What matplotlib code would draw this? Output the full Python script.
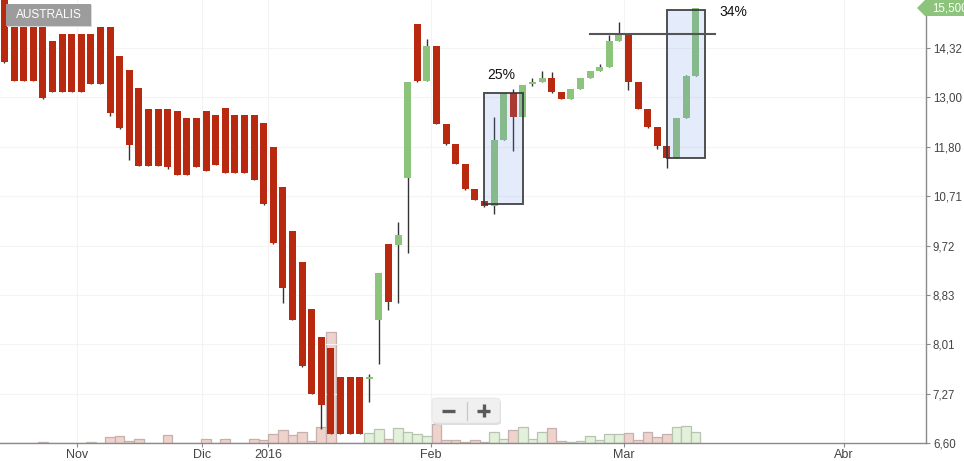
import matplotlib
matplotlib.use('Agg')
import matplotlib.pyplot as plt
import numpy as np
from matplotlib.patches import Rectangle, FancyBboxPatch, Polygon
from matplotlib.lines import Line2D
from matplotlib.ticker import FixedLocator, NullLocator

plt.rcParams['font.family'] = ['Liberation Sans', 'DejaVu Sans']

# ---------------- data ----------------
opens = [15.90, 15.05, 15.05, 15.05, 15.05, 14.52, 14.73, 14.73, 14.73, 14.73,
         14.93, 14.93, 14.10, 13.70, 13.25, 12.71, 12.71, 12.71, 12.66, 12.49,
         12.49, 12.66, 12.56, 12.74, 12.56, 12.56, 12.56, 12.36, 11.79, 10.90,
         10.00, 9.41, 8.58, 8.12, 7.95, 7.51, 7.51, 7.51, 7.48, 8.40,
         9.75, 9.73, 11.10, 15.01, 13.42, 14.38, 12.34, 11.86, 11.41, 10.86,
         10.61, 10.50, 11.96, 13.11, 12.51, 13.34, 13.40, 13.50, 13.14, 12.96,
         13.21, 13.50, 13.69, 13.80, 14.52, 14.72, 13.40, 12.71, 12.26, 11.82,
         11.54, 12.48, 13.56]
closes = [13.92, 13.43, 13.43, 13.43, 12.99, 13.14, 13.14, 13.14, 13.14, 13.35,
          13.35, 12.61, 12.25, 11.84, 11.37, 11.37, 11.37, 11.33, 11.17, 11.17,
          11.33, 11.24, 11.39, 11.21, 11.21, 11.21, 11.06, 10.55, 9.77, 8.94,
          8.40, 7.68, 7.27, 7.11, 6.72, 6.72, 6.72, 6.72, 7.51, 9.21,
          8.70, 9.92, 13.40, 13.42, 14.38, 12.34, 11.86, 11.41, 10.86, 10.63,
          10.50, 11.96, 13.11, 12.51, 13.32, 13.40, 13.50, 13.14, 12.96, 13.21,
          13.50, 13.69, 13.80, 14.52, 14.72, 13.40, 12.71, 12.26, 11.82, 11.54,
          12.48, 13.56, 15.50]
highs = [15.90, 15.05, 15.05, 15.05, 15.05, 14.52, 14.73, 14.73, 14.73, 14.73,
         14.93, 14.93, 14.10, 13.70, 13.25, 12.71, 12.71, 12.71, 12.66, 12.49,
         12.49, 12.66, 12.56, 12.74, 12.56, 12.56, 12.56, 12.36, 11.79, 10.90,
         10.00, 9.41, 8.58, 8.12, 7.95, 7.51, 7.51, 7.51, 7.56, 9.21,
         9.75, 10.18, 13.40, 15.01, 14.57, 14.38, 12.34, 11.86, 11.41, 10.86,
         10.61, 12.51, 13.11, 13.21, 13.32, 13.50, 13.69, 13.66, 13.14, 13.21,
         13.50, 13.69, 13.88, 14.69, 15.07, 14.72, 13.40, 12.71, 12.26, 11.82,
         12.48, 13.58, 15.50]
lows = [13.89, 13.43, 13.43, 13.43, 12.96, 13.14, 13.14, 13.14, 13.14, 13.35,
        13.35, 12.52, 12.22, 11.49, 11.35, 11.37, 11.37, 11.30, 11.17, 11.17,
        11.33, 11.24, 11.39, 11.21, 11.21, 11.21, 11.06, 10.53, 9.75, 8.68,
        8.40, 7.66, 7.26, 6.78, 6.72, 6.72, 6.72, 6.72, 7.15, 7.71,
        8.57, 8.68, 9.58, 13.40, 13.42, 12.34, 11.84, 11.41, 10.84, 10.63,
        10.48, 10.34, 11.96, 11.70, 12.51, 13.29, 13.40, 13.11, 12.96, 12.96,
        13.21, 13.50, 13.69, 13.80, 14.52, 13.19, 12.71, 12.24, 11.75, 11.32,
        11.54, 12.48, 13.56]
volumes = [0, 0, 0, 0, 1, 0, 0, 0, 0, 1,
           0, 6, 7, 2, 4, 0, 0, 8, 0, 0,
           0, 4, 0, 4, 0, 0, 4, 3, 9, 13,
           8, 11, 2, 16, 111, 0, 0, 0, 10, 14,
           4, 15, 11, 9, 7, 19, 3, 3, 1, 3,
           1, 11, 4, 13, 16, 4, 11, 15, 2, 1.5,
           2, 7, 3, 9, 9, 10, 3, 11, 6, 9,
           16, 17, 11]
vol_up = [0, 0, 0, 0, 0, 0, 0, 0, 0, 1,
          0, 0, 0, 0, 0, 0, 0, 0, 0, 0,
          0, 0, 0, 0, 0, 0, 0, 0, 0, 0,
          0, 0, 0, 0, 0, 0, 0, 0, 1, 1,
          0, 1, 1, 1, 1, 0, 0, 0, 0, 0,
          0, 1, 1, 0, 1, 1, 1, 0, 0, 1,
          1, 1, 1, 1, 1, 0, 0, 0, 0, 0,
          1, 1, 1]
month_labels = ['Nov', 'Dic', '2016', 'Feb', 'Mar', 'Abr']
month_pos = [7.55, 20.57, 27.45, 44.43, 64.53, 87.45]
price_ticks = [6.60, 7.27, 8.01, 8.83, 9.72, 10.71, 11.80, 13.00, 14.32]
last_price = 15.50
title = 'AUSTRALIS'

# ---------------- styling ----------------
RED = '#b8290f'
GREEN = '#8dc47b'
WICK = '#333333'
W, H = 964, 461

def fx(x):
    return x / W

def fy(y):
    return 1 - y / H

fig = plt.figure(figsize=(9.64, 4.61), dpi=100)
fig.patch.set_facecolor('white')
rect = [0, 18 / H, 926 / W, 443 / H]
ax_vol = fig.add_axes(rect)
ax = fig.add_axes(rect, sharex=ax_vol)
ax.patch.set_visible(False)
ax_vol.set_facecolor('white')

n = len(opens)
xs = np.arange(n)

# volume
vcolors = [('#e3f0da' if u else '#f0d2cc') for u in vol_up]
vedges = [('#b8c4b2' if u else '#c4b0ac') for u in vol_up]
ax_vol.bar(xs, volumes, width=1.0, color=vcolors, edgecolor=vedges, linewidth=0.9)
ax_vol.set_ylim(0, 443)
for s in ax_vol.spines.values():
    s.set_visible(False)
ax_vol.tick_params(left=False, labelleft=False, bottom=False, labelbottom=False)
for p in month_pos:
    ax_vol.axvline(p, color='#f3f3f3', lw=0.8, zorder=0)

# price
ax.set_yscale('log')
ax.set_ylim(6.60, 15.73)
ax.set_xlim(-4.5 / 9.6, (926 - 4.5) / 9.6)

for i in range(n):
    o, c, h, l = opens[i], closes[i], highs[i], lows[i]
    col = GREEN if c >= o else RED
    ax.vlines(i, l, h, color=WICK, lw=1.0, zorder=2)
    lo, hi = min(o, c), max(o, c)
    if hi - lo < 0.02:
        hi = lo + 0.02
    ax.bar(i, hi - lo, bottom=lo, width=0.73, color=col, linewidth=0, zorder=3)

for t in price_ticks:
    ax.axhline(t, color='#f4f4f4', lw=0.8, zorder=0)

ax.yaxis.tick_right()
ax.yaxis.set_major_locator(FixedLocator(price_ticks))
ax.yaxis.set_minor_locator(NullLocator())
ax.set_yticklabels([f'{t:.2f}'.replace('.', ',') for t in price_ticks])
ax.set_xticks(month_pos)
ax.set_xticklabels(month_labels)
ax.xaxis.set_minor_locator(NullLocator())
ax.tick_params(axis='y', direction='out', length=3, width=0.8, color='#8a8a8a',
               labelsize=8.3, labelcolor='#444444', pad=2)
ax.tick_params(axis='x', direction='out', length=3, width=0.8, color='#8a8a8a',
               labelsize=9, labelcolor='#444444', pad=1)
for k in ['top', 'left']:
    ax.spines[k].set_visible(False)
for k in ['bottom', 'right']:
    ax.spines[k].set_color('#8a8a8a')
    ax.spines[k].set_linewidth(1.0)

# annotation boxes
ax.add_patch(Rectangle((50, 10.55), 4, 13.11 - 10.55, facecolor='#648ce6', alpha=0.17,
                       edgecolor='none', zorder=4))
ax.add_patch(Rectangle((50, 10.55), 4, 13.11 - 10.55, facecolor='none',
                       edgecolor='#333333', lw=1.4, alpha=0.85, zorder=5))
ax.add_patch(Rectangle((69, 11.54), 4, 15.43 - 11.54, facecolor='#648ce6', alpha=0.17,
                       edgecolor='none', zorder=4))
ax.add_patch(Rectangle((69, 11.54), 4, 15.43 - 11.54, facecolor='none',
                       edgecolor='#333333', lw=1.4, alpha=0.85, zorder=5))
ax.plot([61, 74], [14.72, 14.72], color='#555555', lw=1.5, zorder=5)
ax.text(51.7, 13.57, '25%', fontsize=10, color='#111111', ha='center', va='center', zorder=6)
ax.text(75.9, 15.36, '34%', fontsize=10, color='#111111', ha='center', va='center', zorder=6)

# title label
fig.patches.append(Rectangle((fx(7), fy(27)), 85 / W, 22 / H, transform=fig.transFigure,
                             facecolor='#d8d8d8', edgecolor='none', zorder=9))
fig.patches.append(Rectangle((fx(6), fy(26)), 85 / W, 22 / H, transform=fig.transFigure,
                             facecolor='#9c9c9c', edgecolor='none', zorder=10))
fig.text(fx(48.5), fy(15.5), title, color='white', fontsize=8.6, ha='center', va='center', zorder=11)

# last price tag
tag = Polygon([(fx(917), fy(8)), (fx(925), fy(0)), (fx(964), fy(0)), (fx(964), fy(16)),
               (fx(925), fy(16))], closed=True, transform=fig.transFigure,
              facecolor=GREEN, edgecolor='none', zorder=10)
fig.patches.append(tag)
fig.text(fx(932), fy(8.5), f'{last_price:.3f}'.replace('.', ','), color='white', fontsize=8.3,
         ha='left', va='center', zorder=11)

# zoom control
fig.patches.append(FancyBboxPatch((fx(433), fy(425)), 68 / W, 25 / H, boxstyle='round,pad=0,rounding_size=0.006',
                                  transform=fig.transFigure, facecolor='#dddddd', edgecolor='none', zorder=9))
fig.patches.append(FancyBboxPatch((fx(432), fy(423)), 68 / W, 25 / H, boxstyle='round,pad=0,rounding_size=0.006',
                                  transform=fig.transFigure, facecolor='#f0f0f0', edgecolor='#e6e6e6',
                                  lw=0.6, zorder=10))
fig.lines.append(Line2D([fx(442), fx(455)], [fy(410.5), fy(410.5)], transform=fig.transFigure,
                        color='#5a5a5a', lw=2.4, zorder=11, solid_capstyle='butt'))
fig.lines.append(Line2D([fx(477), fx(490)], [fy(410.5), fy(410.5)], transform=fig.transFigure,
                        color='#5a5a5a', lw=2.4, zorder=11, solid_capstyle='butt'))
fig.lines.append(Line2D([fx(483.5), fx(483.5)], [fy(404), fy(417)], transform=fig.transFigure,
                        color='#5a5a5a', lw=2.4, zorder=11, solid_capstyle='butt'))
fig.lines.append(Line2D([fx(467), fx(467)], [fy(402), fy(420)], transform=fig.transFigure,
                        color='#c8c8c8', lw=0.9, zorder=11))

fig.savefig('out.png', dpi=100, facecolor='white')
